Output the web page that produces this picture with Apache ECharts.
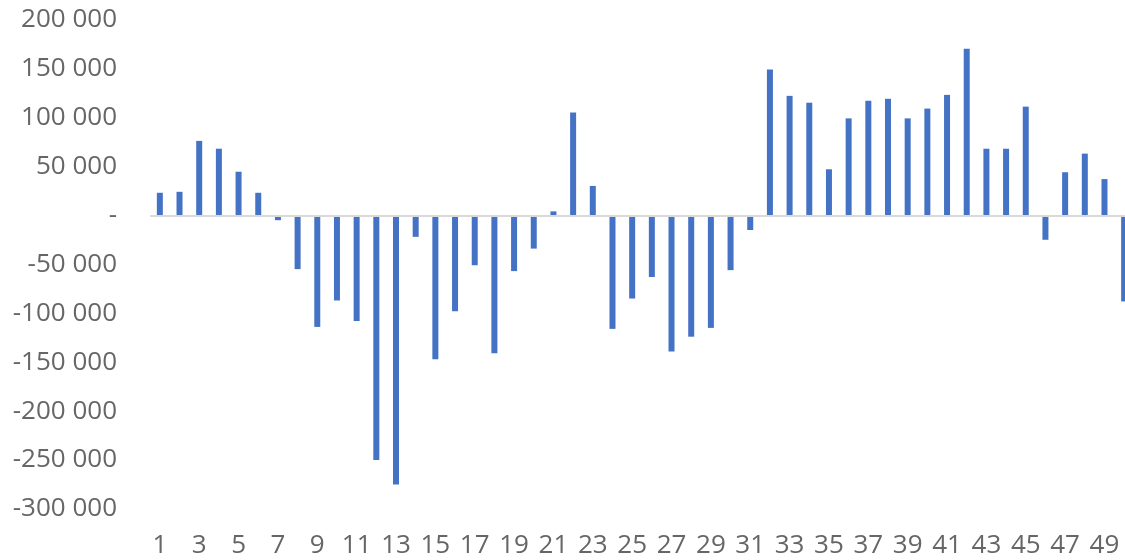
<!DOCTYPE html>
<html>
<head>
<meta charset="utf-8">
<script src="https://cdn.jsdelivr.net/npm/echarts@6/dist/echarts.min.js"></script>
<style>
html,body{margin:0;padding:0;background:#fff;overflow:hidden;width:1125px;height:560px;}
#chart{width:1134px;height:560px;}
</style>
</head>
<body>
<div id="chart"></div>
<script>
const categories = [];
for (let i = 1; i <= 50; i++) categories.push(String(i));

const values = [
  23000, 24000, 76000, 68000, 44500, 23000, -5000, -55000, -114000, -87000,
  -108000, -250000, -275000, -22000, -147000, -98000, -51000, -141000, -57000, -34000,
  4000, 105000, 30000, -116000, -85000, -63000, -139000, -124000, -115000, -56000,
  -15000, 149000, 122000, 115000, 47000, 99000, 117000, 119000, 99000, 109000,
  123000, 170000, 68000, 68000, 111000, -25000, 44000, 63000, 37000, -88000
];

const yMin = -300000, yMax = 200000, yStep = 50000;

function fmt(v) {
  if (v === 0) return '-';
  const s = String(Math.abs(v)).replace(/\B(?=(\d{3})+(?!\d))/g, ' ');
  return (v < 0 ? '-' : '') + s;
}

const chart = echarts.init(document.getElementById('chart'), null, {renderer: 'canvas'});
chart.setOption({
  animation: false,
  backgroundColor: '#ffffff',
  textStyle: {fontFamily: 'Open Sans'},
  grid: {left: 150, top: 19.5, right: 0, bottom: 51, containLabel: false},
  xAxis: {
    type: 'category',
    data: categories,
    axisLine: {show: false, onZero: false},
    axisTick: {show: false},
    axisLabel: {interval: 1, color: '#666666', fontSize: 26, fontFamily: 'Open Sans', margin: 24}
  },
  yAxis: {
    type: 'value',
    min: yMin, max: yMax, interval: yStep,
    axisLine: {show: false},
    axisTick: {show: false},
    splitLine: {show: false},
    axisLabel: {color: '#666666', fontSize: 26, fontFamily: 'Open Sans', margin: 33, formatter: fmt}
  },
  series: [{
    type: 'bar',
    data: values,
    barWidth: 6,
    itemStyle: {color: '#4472C4'},
    markLine: {
      silent: true,
      symbol: ['none', 'none'],
      label: {show: false},
      lineStyle: {color: '#d9d9d9', width: 2, type: 'solid'},
      data: [{yAxis: 0}]
    }
  }]
});
</script>
</body>
</html>
